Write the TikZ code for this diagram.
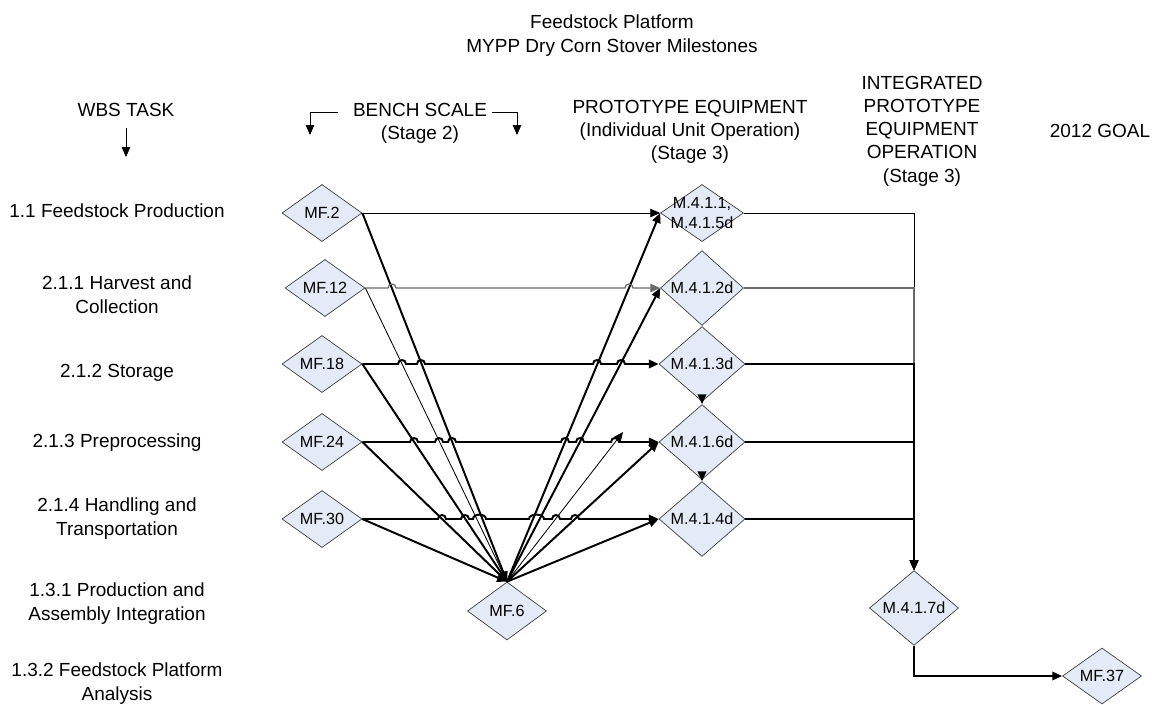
\documentclass[tikz,border=0pt]{standalone}
\usepackage{fontspec}
\setmainfont{Liberation Sans}
\usetikzlibrary{arrows.meta,shapes.geometric}
\definecolor{dfill}{RGB}{228,234,246}
\definecolor{lgray}{RGB}{105,105,105}
\begin{document}
\begin{tikzpicture}[x=0.025cm,y=-0.025cm,
  dia/.style={diamond, draw=black!75, line width=0.5pt, fill=dfill, inner sep=0pt,
              minimum width=2cm, minimum height=1.425cm, font=\fontsize{11.5}{14}\selectfont},
  dtext/.style={font=\fontsize{11.5}{14}\selectfont, align=center, inner sep=0pt},
  lab/.style={font=\fontsize{13.5}{17}\selectfont, align=center},
  hdr/.style={font=\fontsize{13.5}{16.5}\selectfont, align=center},
  thk/.style={line width=1.4pt},
  thn/.style={line width=0.6pt},
  gry/.style={draw=lgray, line width=0.9pt},
  arr/.style={-{Triangle[length=7pt,width=6pt]}}
]
\useasboundingbox (0,0) rectangle (1169,704);

% header
\node[hdr] (title) at (612,22) {Feedstock Platform};
\node[hdr] (sub) at (612,48) {MYPP Dry Corn Stover Milestones};
\node[hdr] (wbs) at (126,110) {WBS TASK};
\coordinate (wa) at (126,128); \coordinate (wb) at (126,157);
\draw[thn,arr] (wa) -- (wb);
\node[hdr] (bench) at (420,123) {BENCH SCALE\\(Stage 2)};
\coordinate (bl1) at (338,112); \coordinate (bl2) at (310,112); \coordinate (bl3) at (310,135);
\coordinate (br1) at (492,112); \coordinate (br2) at (517,112); \coordinate (br3) at (517,135);
\draw[thn,arr] (bl1) -- (bl2) -- (bl3);
\draw[thn,arr] (br1) -- (br2) -- (br3);
\node[hdr] (proto) at (690,132) {PROTOTYPE EQUIPMENT\\(Individual Unit Operation)\\(Stage 3)};
\node[hdr] (integ) at (922,131) {INTEGRATED\\PROTOTYPE\\EQUIPMENT\\OPERATION\\(Stage 3)};
\node[hdr] (goal) at (1100,131) {2012 GOAL};

% WBS labels
\node[lab] (l1) at (117,211) {1.1 Feedstock Production};
\node[lab] (l2) at (117,295) {2.1.1 Harvest and\\Collection};
\node[lab] (l3) at (117,373) {2.1.2 Storage};
\node[lab] (l4) at (117,443) {2.1.3 Preprocessing};
\node[lab] (l5) at (117,519) {2.1.4 Handling and\\Transportation};
\node[lab] (l6) at (117,604) {1.3.1 Production and\\Assembly Integration};
\node[lab] (l7) at (117,684) {1.3.2 Feedstock Platform\\Analysis};

% diamonds
\node[dia] (mf2)  at (322,213) {MF.2};
\node[dia] (mf12) at (325,288) {MF.12};
\node[dia] (mf18) at (322,364) {MF.18};
\node[dia] (mf24) at (322,442) {MF.24};
\node[dia] (mf30) at (322,519) {MF.30};
\node[dia, minimum width=1.975cm, minimum height=1.45cm] (mf6) at (507,611) {MF.6};
\node[dia, minimum width=2.075cm] (m411) at (702,213) {};
\node[dtext] at (m411) {M.4.1.1,\\M.4.1.5d};
\node[dia, minimum width=2.075cm] (m412) at (702,288) {M.4.1.2d};
\node[dia, minimum width=2.15cm] (m413) at (702,364) {M.4.1.3d};
\node[dia, minimum width=2.15cm] (m416) at (702,442) {M.4.1.6d};
\node[dia, minimum width=2.15cm] (m414) at (702,519) {M.4.1.4d};
\node[dia, minimum width=2.225cm] (m417) at (914,608) {M.4.1.7d};
\node[dia, minimum width=1.975cm, minimum height=1.4cm] (mf37) at (1102,676) {MF.37};

% bench scale -> MF.6
\draw[thk,arr] (mf2.east) -- (mf6.north);
\draw[thn,arr] (mf12.east) -- (mf6.north);
\draw[thk,arr] (mf18.east) -- (mf6.north);
\draw[thk,arr] (mf24.east) -- (mf6.north);
\draw[thk,arr] (mf30.east) -- (mf6.north);

% MF.6 -> prototype
\coordinate (free) at (623,432);
\draw[thk,arr] (mf6.north) -- (m411.west);
\draw[thk,arr] (mf6.north) -- (m412.west);
\draw[thn,arr] (mf6.north) -- (free);
\draw[thk,arr] (mf6.north) -- (m416.west);
\draw[thk,arr] (mf6.north) -- (m414.west);

% horizontal rows (with line jumps)
\draw[thn,arr] (mf2.east) -- (m411.west);
\draw[gry,arr] (mf12.east)
  -- (388,288) .. controls (388,282.7) and (396,282.7) .. (396,288)
  -- (625,288) .. controls (625,282.7) and (633,282.7) .. (633,288)
  -- (m412.west);
\draw[thk,arr] (mf18.east)
  -- (398,364) .. controls (398,358.7) and (406,358.7) .. (406,364)
  -- (417,364) .. controls (417,358.7) and (425,358.7) .. (425,364)
  -- (593,364) .. controls (593,358.7) and (601,358.7) .. (601,364)
  -- (617,364) .. controls (617,358.7) and (625,358.7) .. (625,364)
  -- (m413.west);
\draw[thk,arr] (mf24.east)
  -- (410,442) .. controls (410,436.7) and (418,436.7) .. (418,442)
  -- (435,442) .. controls (435,436.7) and (443,436.7) .. (443,442)
  -- (448,442) .. controls (448,436.7) and (456,436.7) .. (456,442)
  -- (561,442) .. controls (561,436.7) and (569,436.7) .. (569,442)
  -- (576,442) .. controls (576,436.7) and (584,436.7) .. (584,442)
  -- (611,442) .. controls (611,436.7) and (619,436.7) .. (619,442)
  -- (m416.west);
\draw[thk,arr] (mf30.east)
  -- (438,519) .. controls (438,513.7) and (446,513.7) .. (446,519)
  -- (461,519) .. controls (461,513.7) and (469,513.7) .. (469,519)
  -- (473,519) .. controls (473,513.2) and (486,513.2) .. (486,519)
  -- (529,519) .. controls (529,513.2) and (544,513.2) .. (544,519)
  -- (552,519) .. controls (552,513.7) and (560,513.7) .. (560,519)
  -- (571,519) .. controls (571,513.7) and (579,513.7) .. (579,519)
  -- (m414.west);

% prototype -> integrated
\draw[thn,arr] (m411.east) -| (m417.north);
\draw[gry,arr] (m412.east) -| (m417.north);
\draw[thk,arr] (m413.east) -| (m417.north);
\draw[thk,arr] (m416.east) -| (m417.north);
\draw[thk,arr] (m414.east) -| (m417.north);
\draw[thk,arr] (m413.south) -- (m416.north);
\draw[thk,arr] (m416.south) -- (m414.north);
\draw[thk,arr] (m417.south) |- (mf37.west);
\end{tikzpicture}
\end{document}
